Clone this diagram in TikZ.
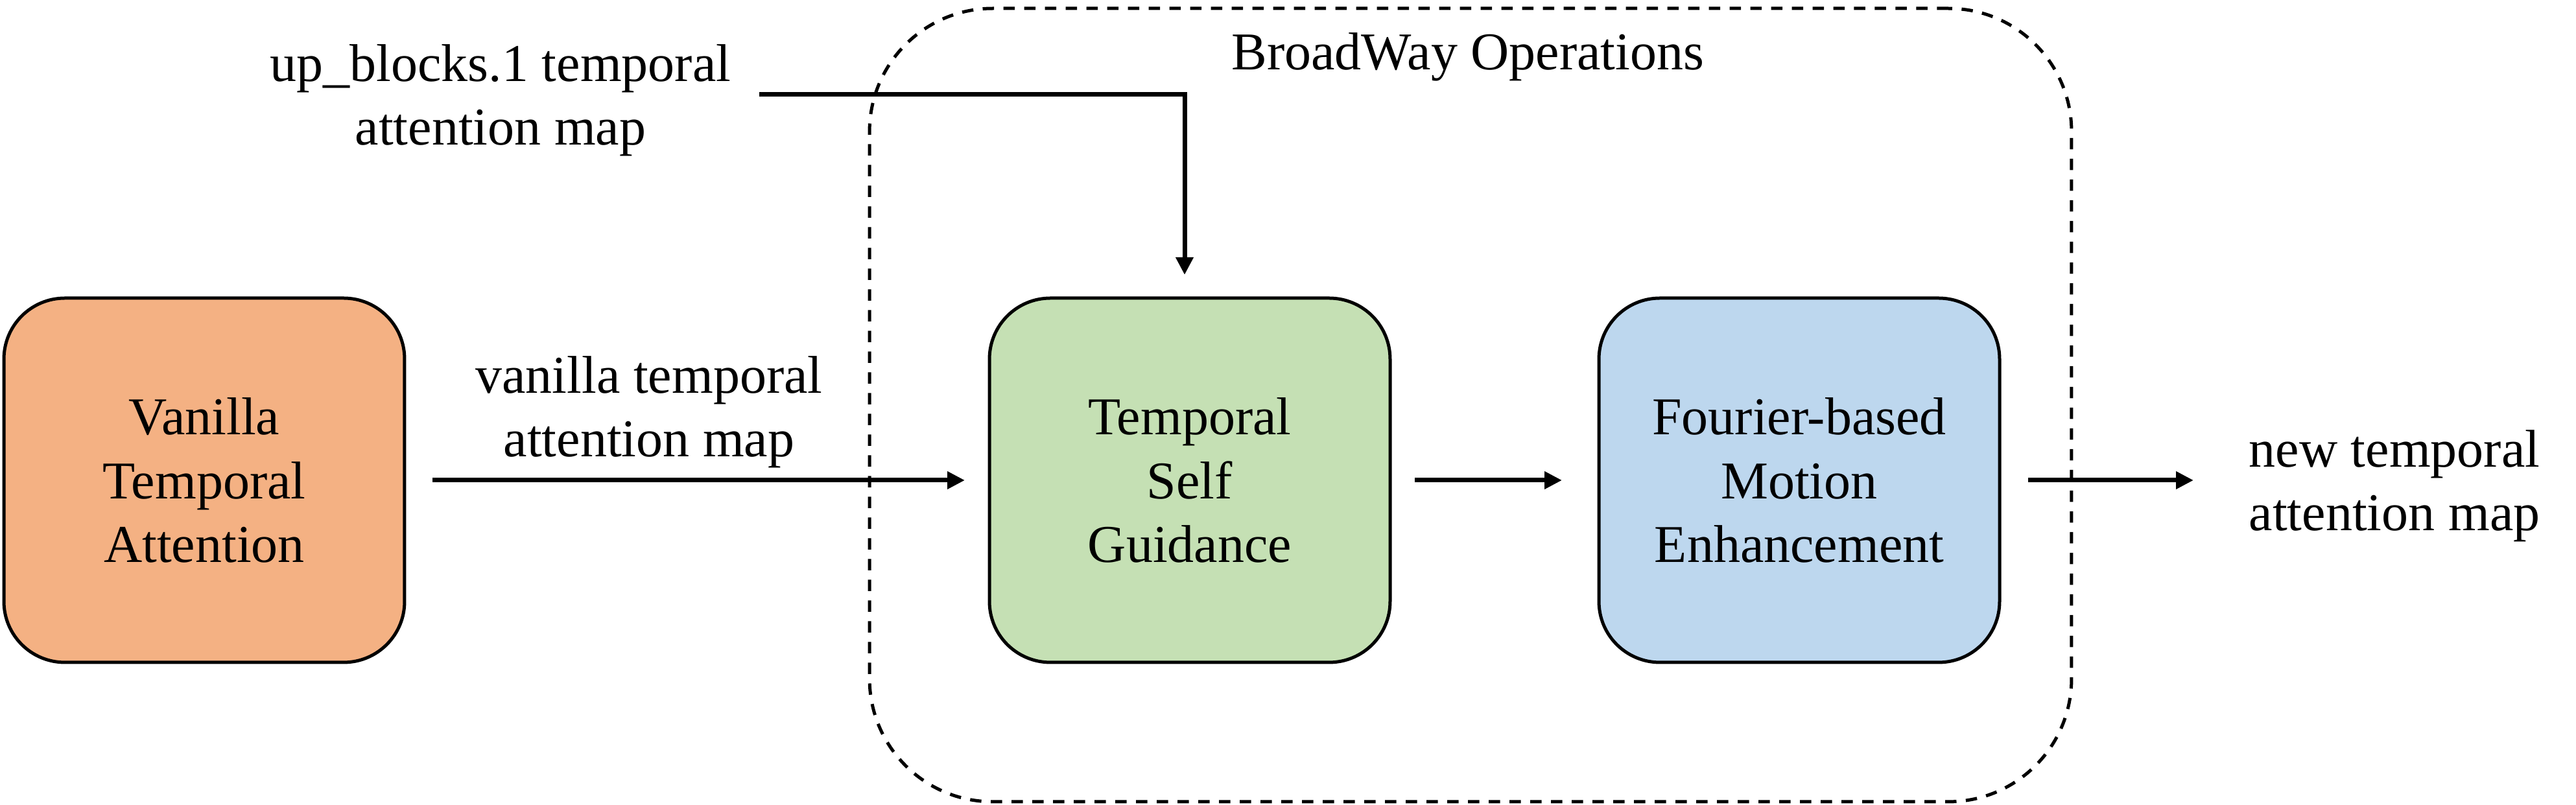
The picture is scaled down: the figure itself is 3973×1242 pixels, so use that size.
\documentclass[tikz,border=0pt]{standalone}
\usepackage{fontspec}
\setmainfont{Liberation Serif}
\usetikzlibrary{arrows.meta}
\definecolor{orangefill}{HTML}{F4B183}
\definecolor{greenfill}{HTML}{C5E0B4}
\definecolor{bluefill}{HTML}{BDD7EE}
\begin{document}
\begin{tikzpicture}[x=0.1pt,y=-0.1pt,
  every node/.style={font=\fontsize{8.2pt}{9.85pt}\selectfont, inner sep=0pt, outer sep=0pt},
  blockbox/.style={draw=black, line width=0.5pt, rounded corners=9.4pt, rectangle,
    minimum width=61.8pt, minimum height=56.2pt, align=center},
  lbl/.style={align=center},
  conn/.style={line width=0.7pt, -{Triangle[length=2.7pt,width=2.6pt]}},
  groupbox/.style={draw=black, line width=0.5pt, dash pattern=on 1.75pt off 1.45pt,
    rounded corners=19pt, rectangle, minimum width=185.4pt, minimum height=122.4pt}
]
\useasboundingbox (0,0) rectangle (3973,1242);

% group
\node[groupbox] (bw) at (2268,625) {};
\node (bwlab) at (2264,88) {BroadWay Operations};

% blocks
\node[blockbox, fill=orangefill] (van) at (315,741) {Vanilla\\Temporal\\Attention};
\node[blockbox, fill=greenfill] (tsg) at (1835,741) {Temporal\\Self\\Guidance};
\node[blockbox, fill=bluefill] (fme) at (2775,741) {Fourier-based\\Motion\\Enhancement};

% labels
\node[lbl] (uplab) at (772,155) {up\_blocks.1 temporal\\attention map};
\node[lbl] (vanlab) at (1001,636) {vanilla temporal\\attention map};
\node[lbl] (newlab) at (3693,750) {new temporal\\attention map};

% connectors
\coordinate (upstart) at (1171,146);
\draw[conn, shorten >=3.6pt] (upstart) -| ([xshift=-0.8pt]tsg.north);
\draw[conn, shorten <=4.3pt, shorten >=3.8pt] (van.east) -- (tsg.west);
\draw[conn, shorten <=3.8pt, shorten >=5.7pt] (tsg.east) -- (fme.west);
\coordinate (outend) at (3383,741);
\draw[conn, shorten <=4.4pt] (fme.east) -- (outend);
\end{tikzpicture}
\end{document}
